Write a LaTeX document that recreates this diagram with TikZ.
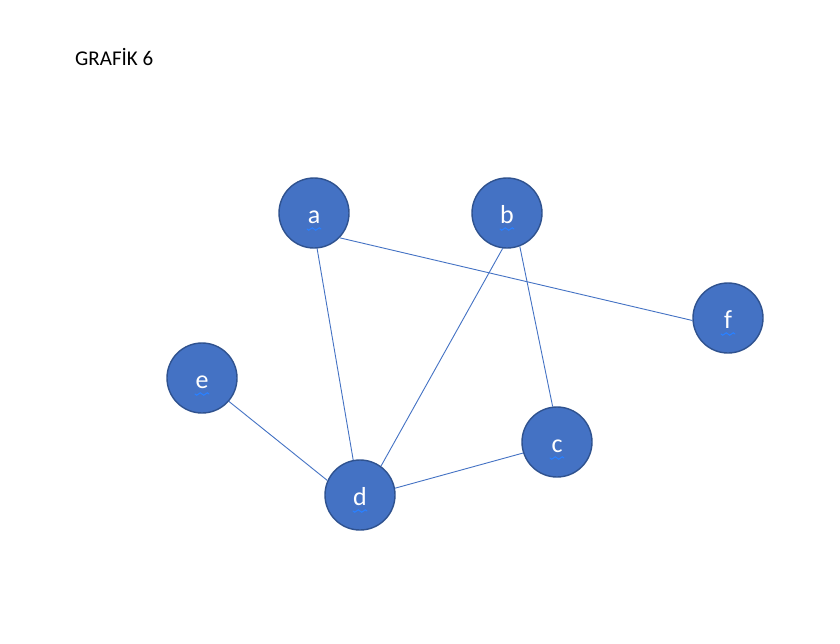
\documentclass[tikz,border=0pt]{standalone}
\usepackage{fontspec}
\setmainfont{Carlito}
\definecolor{nodefill}{HTML}{4472C4}
\definecolor{nodeedge}{HTML}{2F528F}
\definecolor{squig}{HTML}{2A80FF}
\tikzset{
  vertex/.style={circle, minimum size=70pt, inner sep=0pt, fill=nodefill,
    draw=nodeedge, line width=1.4pt},
  label text/.style={text=white, font=\fontsize{26}{26}\selectfont, anchor=base, inner sep=0pt},
  edge/.style={draw=nodefill, line width=0.9pt},
  squiggle/.style={draw=squig, line width=1.1pt, line cap=round}
}
\begin{document}
\begin{tikzpicture}[x=1pt, y=-1pt]
  \useasboundingbox (0,0) rectangle (840,643);
  \fill[white] (0,0) rectangle (840,643);
  \node[anchor=base west, inner sep=0pt, font=\fontsize{21}{21}\selectfont] (title) at (75,65) {GRAFİK 6};
  % vertices
  \node[vertex] (a) at (314,213) {};
  \node[vertex] (b) at (507,213) {};
  \node[vertex] (c) at (557,442) {};
  \node[vertex] (d) at (360,495) {};
  \node[vertex] (e) at (202,378) {};
  \node[vertex] (f) at (728,318) {};
  % edges, attached at fixed points of each circle
  \draw[edge] (a.-85)  -- (d.101.5);
  \draw[edge] (a.-44)  -- (f.184.8);
  \draw[edge] (b.-97.4) -- (d.54.1);
  \draw[edge] (b.-69.2) -- (c.97.4);
  \draw[edge] (c.198.2) -- (d.11.3);
  \draw[edge] (e.-41.6) -- (d.156.8);
  % labels with their spell-check squiggles
  \foreach \n in {a, b, c, d, e, f} {
    \node[label text] (t\n) at ([yshift=-10pt]\n.center) {\n};
    \draw[squiggle] ([xshift=-7pt, yshift=-16pt]\n.center)
      sin ++(1.75,1.2) cos ++(1.75,-1.2) sin ++(1.75,-1.2) cos ++(1.75,1.2)
      sin ++(1.75,1.2) cos ++(1.75,-1.2) sin ++(1.75,-1.2) cos ++(1.75,1.2);
  }
\end{tikzpicture}
\end{document}
